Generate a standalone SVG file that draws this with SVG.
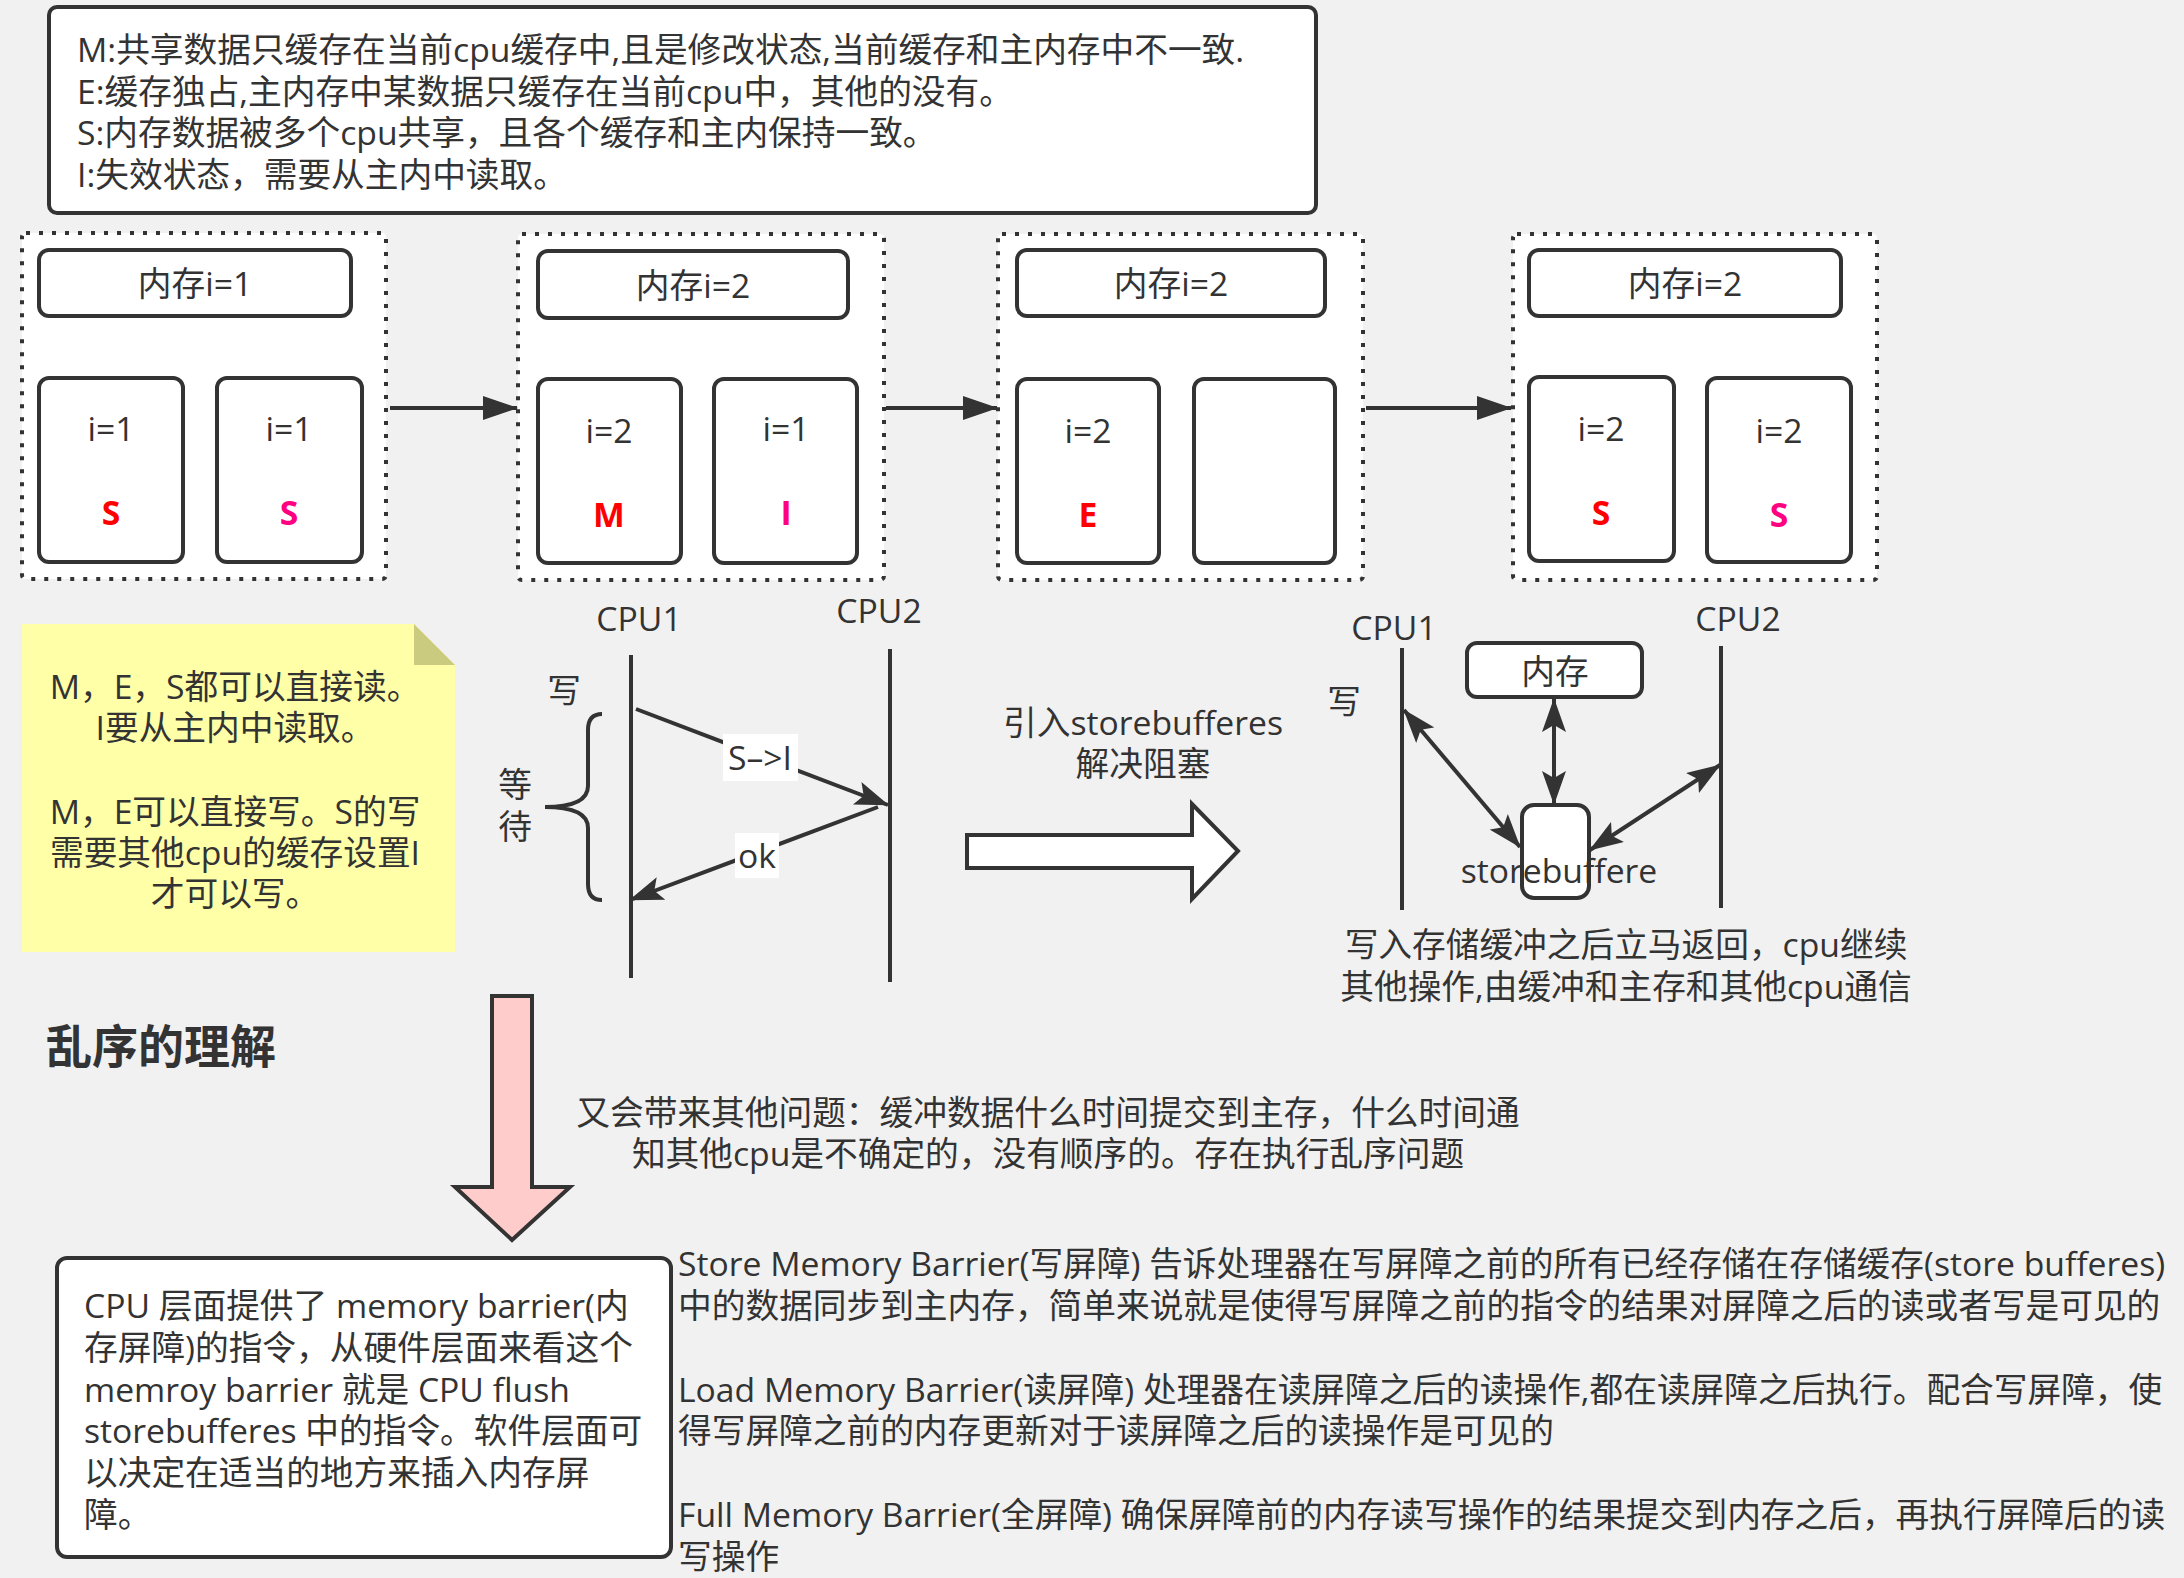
<svg xmlns="http://www.w3.org/2000/svg" width="2184" height="1578" viewBox="0 0 2184 1578">
<defs>
<style>
text{font-family:"Open Sans","Noto Sans CJK SC",sans-serif;font-size:33.7px;fill:#333;dominant-baseline:central;}
.c{text-anchor:middle;}
.box{fill:#fff;stroke:#333;stroke-width:4;}
.dot{fill:#fff;stroke:#333;stroke-width:4;stroke-dasharray:4 9;}
.ln{stroke:#333;stroke-width:4;fill:none;}
.red{fill:#ff0000;font-weight:bold;}
.pink{fill:#ff0080;font-weight:bold;}
.lbl{fill:#fff;stroke:none;}
</style>
<marker id="blk" viewBox="0 0 35 24" refX="34" refY="12" markerWidth="35" markerHeight="24" orient="auto" markerUnits="userSpaceOnUse"><path d="M0,0 L35,12 L0,24 z" fill="#333"/></marker>
<marker id="cls" viewBox="0 0 34 24" refX="33" refY="12" markerWidth="34" markerHeight="24" orient="auto-start-reverse" markerUnits="userSpaceOnUse"><path d="M0,0 L34,12 L0,24 L7,12 z" fill="#333"/></marker>
</defs>
<rect width="2184" height="1578" fill="#f1f1f1"/>

<g id="legend">
<rect class="box" x="49" y="7" width="1267" height="206" rx="8"/>
<text><tspan x="77" y="49">M:共享数据只缓存在当前cpu缓存中,且是修改状态,当前缓存和主内存中不一致.</tspan><tspan x="77" y="91">E:缓存独占,主内存中某数据只缓存在当前cpu中，其他的没有。</tspan><tspan x="77" y="132">S:内存数据被多个cpu共享，且各个缓存和主内保持一致。</tspan><tspan x="77" y="174">I:失效状态，需要从主内中读取。</tspan></text>
</g>

<g id="state1">
<rect class="dot" x="22" y="233" width="364" height="346" rx="4"/>
<rect class="box" x="39" y="250" width="312" height="66" rx="10"/>
<text class="c" x="195" y="283">内存i=1</text>
<rect class="box" x="39" y="378" width="144" height="184" rx="10"/>
<text class="c" x="111" y="428">i=1</text>
<text class="c red" x="111" y="512">S</text>
<rect class="box" x="217" y="378" width="145" height="184" rx="10"/>
<text class="c" x="289" y="428">i=1</text>
<text class="c pink" x="289" y="512">S</text>
</g>

<g id="state2">
<rect class="dot" x="518" y="234" width="366" height="346" rx="4"/>
<rect class="box" x="538" y="251" width="310" height="67" rx="10"/>
<text class="c" x="693" y="285">内存i=2</text>
<rect class="box" x="538" y="379" width="143" height="184" rx="10"/>
<text class="c" x="609" y="430">i=2</text>
<text class="c red" x="609" y="514">M</text>
<rect class="box" x="714" y="379" width="143" height="184" rx="10"/>
<text class="c" x="786" y="428">i=1</text>
<text class="c pink" x="786" y="512">I</text>
</g>

<g id="state3">
<rect class="dot" x="998" y="234" width="365" height="346" rx="4"/>
<rect class="box" x="1017" y="250" width="308" height="66" rx="10"/>
<text class="c" x="1171" y="283">内存i=2</text>
<rect class="box" x="1017" y="379" width="142" height="184" rx="10"/>
<text class="c" x="1088" y="430">i=2</text>
<text class="c red" x="1088" y="514">E</text>
<rect class="box" x="1194" y="379" width="141" height="184" rx="10"/>
</g>

<g id="state4">
<rect class="dot" x="1513" y="234" width="364" height="346" rx="4"/>
<rect class="box" x="1529" y="250" width="312" height="66" rx="10"/>
<text class="c" x="1685" y="283">内存i=2</text>
<rect class="box" x="1529" y="377" width="145" height="184" rx="10"/>
<text class="c" x="1601" y="428">i=2</text>
<text class="c red" x="1601" y="512">S</text>
<rect class="box" x="1707" y="378" width="144" height="184" rx="10"/>
<text class="c" x="1779" y="430">i=2</text>
<text class="c pink" x="1779" y="514">S</text>
</g>

<g id="note">
<path d="M22,624 L414,624 L455,665 L455,952 L22,952 Z" fill="#ffffa8"/>
<path d="M414,624 L455,665 L414,665 Z" fill="#cbcb80"/>
<text class="c"><tspan x="235" y="686">M，E，S都可以直接读。</tspan><tspan x="235" y="727">I要从主内中读取。</tspan><tspan x="235" y="811">M，E可以直接写。S的写</tspan><tspan x="235" y="852">需要其他cpu的缓存设置I</tspan><tspan x="235" y="893">才可以写。</tspan></text>
</g>

<g id="seq1">
<text class="c" x="639" y="618">CPU1</text>
<text class="c" x="879" y="610">CPU2</text>
<text class="c" x="564" y="690">写</text>
<text class="c"><tspan x="515" y="784">等</tspan><tspan x="515" y="826">待</tspan></text>
<path class="ln" d="M602,714 Q588,714 588,730 L588,786 Q588,807 545,807 Q588,807 588,828 L588,884 Q588,900 602,900"/>
</g>

<g id="title">
<text x="46" y="1045" style="font-size:46px;font-weight:bold;">乱序的理解</text>
</g>

<g id="storebuf">
<text class="c" x="1394" y="627">CPU1</text>
<text class="c" x="1738" y="618">CPU2</text>
<text class="c" x="1344" y="701">写</text>
<rect class="box" x="1467" y="643" width="175" height="54" rx="10"/>
<text class="c" x="1555" y="671">内存</text>
<rect class="box" x="1522" y="805" width="67" height="93" rx="12"/>
<text class="c" x="1559" y="870">storebuffere</text>
</g>

<g id="texts">
<text class="c"><tspan x="1143" y="722">引入storebufferes</tspan><tspan x="1143" y="763">解决阻塞</tspan></text>
<text class="c"><tspan x="1626" y="944">写入存储缓冲之后立马返回，cpu继续</tspan><tspan x="1626" y="986">其他操作,由缓冲和主存和其他cpu通信</tspan></text>
<text class="c"><tspan x="1048" y="1112">又会带来其他问题：缓冲数据什么时间提交到主存，什么时间通</tspan><tspan x="1048" y="1153">知其他cpu是不确定的，没有顺序的。存在执行乱序问题</tspan></text>
</g>

<g id="cpu-box">
<rect class="box" x="57" y="1258" width="614" height="299" rx="10"/>
<text><tspan x="84" y="1305">CPU 层面提供了 memory barrier(内</tspan><tspan x="84" y="1347">存屏障)的指令，从硬件层面来看这个</tspan><tspan x="84" y="1389">memroy barrier 就是 CPU flush</tspan><tspan x="84" y="1430">storebufferes 中的指令。软件层面可</tspan><tspan x="84" y="1472">以决定在适当的地方来插入内存屏</tspan><tspan x="84" y="1514">障。</tspan></text>
</g>

<g id="barriers">
<text><tspan x="678" y="1263">Store Memory Barrier(写屏障) 告诉处理器在写屏障之前的所有已经存储在存储缓存(store bufferes)</tspan><tspan x="678" y="1305">中的数据同步到主内存，简单来说就是使得写屏障之前的指令的结果对屏障之后的读或者写是可见的</tspan><tspan x="678" y="1389">Load Memory Barrier(读屏障) 处理器在读屏障之后的读操作,都在读屏障之后执行。配合写屏障，使</tspan><tspan x="678" y="1430">得写屏障之前的内存更新对于读屏障之后的读操作是可见的</tspan><tspan x="678" y="1514">Full Memory Barrier(全屏障) 确保屏障前的内存读写操作的结果提交到内存之后，再执行屏障后的读</tspan><tspan x="678" y="1556">写操作</tspan></text>
</g>

<g id="connectors">
<line class="ln" x1="390" y1="408" x2="517" y2="408" marker-end="url(#blk)"/>
<line class="ln" x1="886" y1="408" x2="997" y2="408" marker-end="url(#blk)"/>
<line class="ln" x1="1366" y1="408" x2="1511" y2="408" marker-end="url(#blk)"/>
<line class="ln" x1="631" y1="655" x2="631" y2="978"/>
<line class="ln" x1="890" y1="649" x2="890" y2="982"/>
<line class="ln" x1="636" y1="709" x2="888" y2="805" marker-end="url(#cls)"/>
<line class="ln" x1="878" y1="807" x2="630" y2="900" marker-end="url(#cls)"/>
<rect class="lbl" x="723" y="734" width="75" height="47"/>
<text class="c" x="760" y="757">S–&gt;I</text>
<rect class="lbl" x="735" y="833" width="44" height="45"/>
<text class="c" x="757" y="855">ok</text>
<path d="M967,835 L1192,835 L1192,804 L1238,851 L1192,899 L1192,868 L967,868 Z" fill="#fff" stroke="#333" stroke-width="4" stroke-linejoin="miter"/>
<line class="ln" x1="1402" y1="648" x2="1402" y2="910"/>
<line class="ln" x1="1721" y1="646" x2="1721" y2="908"/>
<line class="ln" x1="1404" y1="710" x2="1520" y2="847" marker-start="url(#cls)" marker-end="url(#cls)"/>
<line class="ln" x1="1554" y1="699" x2="1554" y2="804" marker-start="url(#cls)" marker-end="url(#cls)"/>
<line class="ln" x1="1720" y1="765" x2="1590" y2="850" marker-start="url(#cls)" marker-end="url(#cls)"/>
<path d="M492,996 L532,996 L532,1187 L570,1187 L512,1240 L455,1187 L492,1187 Z" fill="#ffcccc" stroke="#333" stroke-width="4" stroke-linejoin="miter"/>
</g>
</svg>
